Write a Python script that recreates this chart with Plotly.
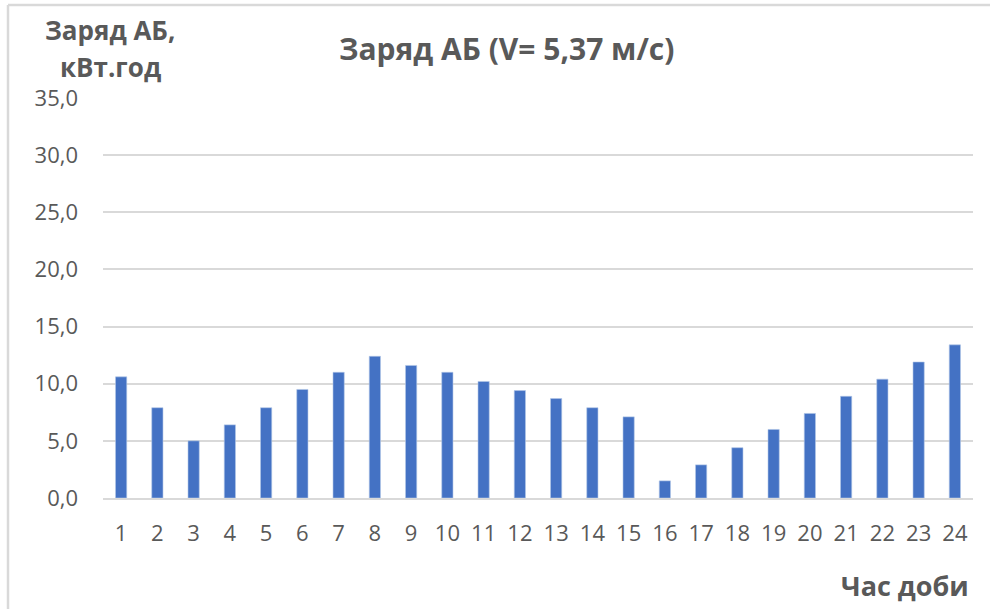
import plotly.graph_objects as go

hours = list(range(1, 25))
charge = [10.6, 7.9, 5.0, 6.4, 7.9, 9.5, 11.0, 12.4, 11.6, 11.0, 10.2, 9.4,
          8.7, 7.9, 7.1, 1.5, 2.9, 4.4, 6.0, 7.4, 8.9, 10.4, 11.9, 13.4]
y_ticks = [0, 5, 10, 15, 20, 25, 30, 35]
y_tick_labels = ["0,0", "5,0", "10,0", "15,0", "20,0", "25,0", "30,0", "35,0"]

title_text = "Заряд АБ (V= 5,37 м/с)"
y_title_lines = ["Заряд АБ,", "кВт.год"]
x_title = "Час доби"

GRAY = "#595959"
FONT = "Open Sans"

fig = go.Figure(go.Bar(
    x=hours, y=charge,
    marker=dict(color="#4472C4", line=dict(color="#b4c7e7", width=0.6)),
    width=0.31,
))

def px_x(p):
    return (p - 103) / 870

def px_y(p):
    return (498 - p) / 400

annotations = [
    dict(text="<b>" + title_text + "</b>", xref="paper", yref="paper",
         x=px_x(506), y=px_y(49), xanchor="center", yanchor="middle",
         showarrow=False, font=dict(size=30, color=GRAY, family=FONT)),
    dict(text="<b>" + x_title + "</b>", xref="paper", yref="paper",
         x=px_x(971), y=px_y(585), xanchor="right", yanchor="middle",
         showarrow=False, font=dict(size=27, color=GRAY, family=FONT)),
]
for line, yc in zip(y_title_lines, [30, 67]):
    annotations.append(dict(text="<b>" + line + "</b>", xref="paper", yref="paper",
                            x=px_x(110), y=px_y(yc), xanchor="center", yanchor="middle",
                            showarrow=False, font=dict(size=26, color=GRAY, family=FONT)))

fig.update_layout(
    width=990, height=609,
    margin=dict(l=103, r=17, t=98, b=111),
    paper_bgcolor="white", plot_bgcolor="white",
    showlegend=False,
    font=dict(family=FONT, color=GRAY, size=22),
    xaxis=dict(range=[0.5, 24.5], tickmode="array", tickvals=hours,
               ticktext=[str(h) for h in hours], showgrid=False,
               showline=True, linecolor="#d9d9d9", linewidth=1.5,
               ticks="", ticklabelstandoff=15,
               tickfont=dict(size=22, color=GRAY, family=FONT), zeroline=False),
    yaxis=dict(range=[0, 35], tickmode="array", tickvals=y_ticks,
               ticktext=y_tick_labels, showgrid=True, gridcolor="#d9d9d9",
               gridwidth=1.5, zeroline=False, showline=False, ticks="",
               ticklabelstandoff=24,
               tickfont=dict(size=22, color=GRAY, family=FONT)),
    annotations=annotations,
    shapes=[
        dict(type="line", xref="paper", yref="paper",
             x0=px_x(8), x1=px_x(8), y0=px_y(5), y1=px_y(620),
             line=dict(color="#d9d9d9", width=2.5)),
        dict(type="line", xref="paper", yref="paper",
             x0=px_x(8), x1=px_x(1000), y0=px_y(5), y1=px_y(5),
             line=dict(color="#d9d9d9", width=2.5)),
    ],
)

fig.write_html("out.html", config={"displayModeBar": False},
               post_script="document.body.style.margin='0';")
